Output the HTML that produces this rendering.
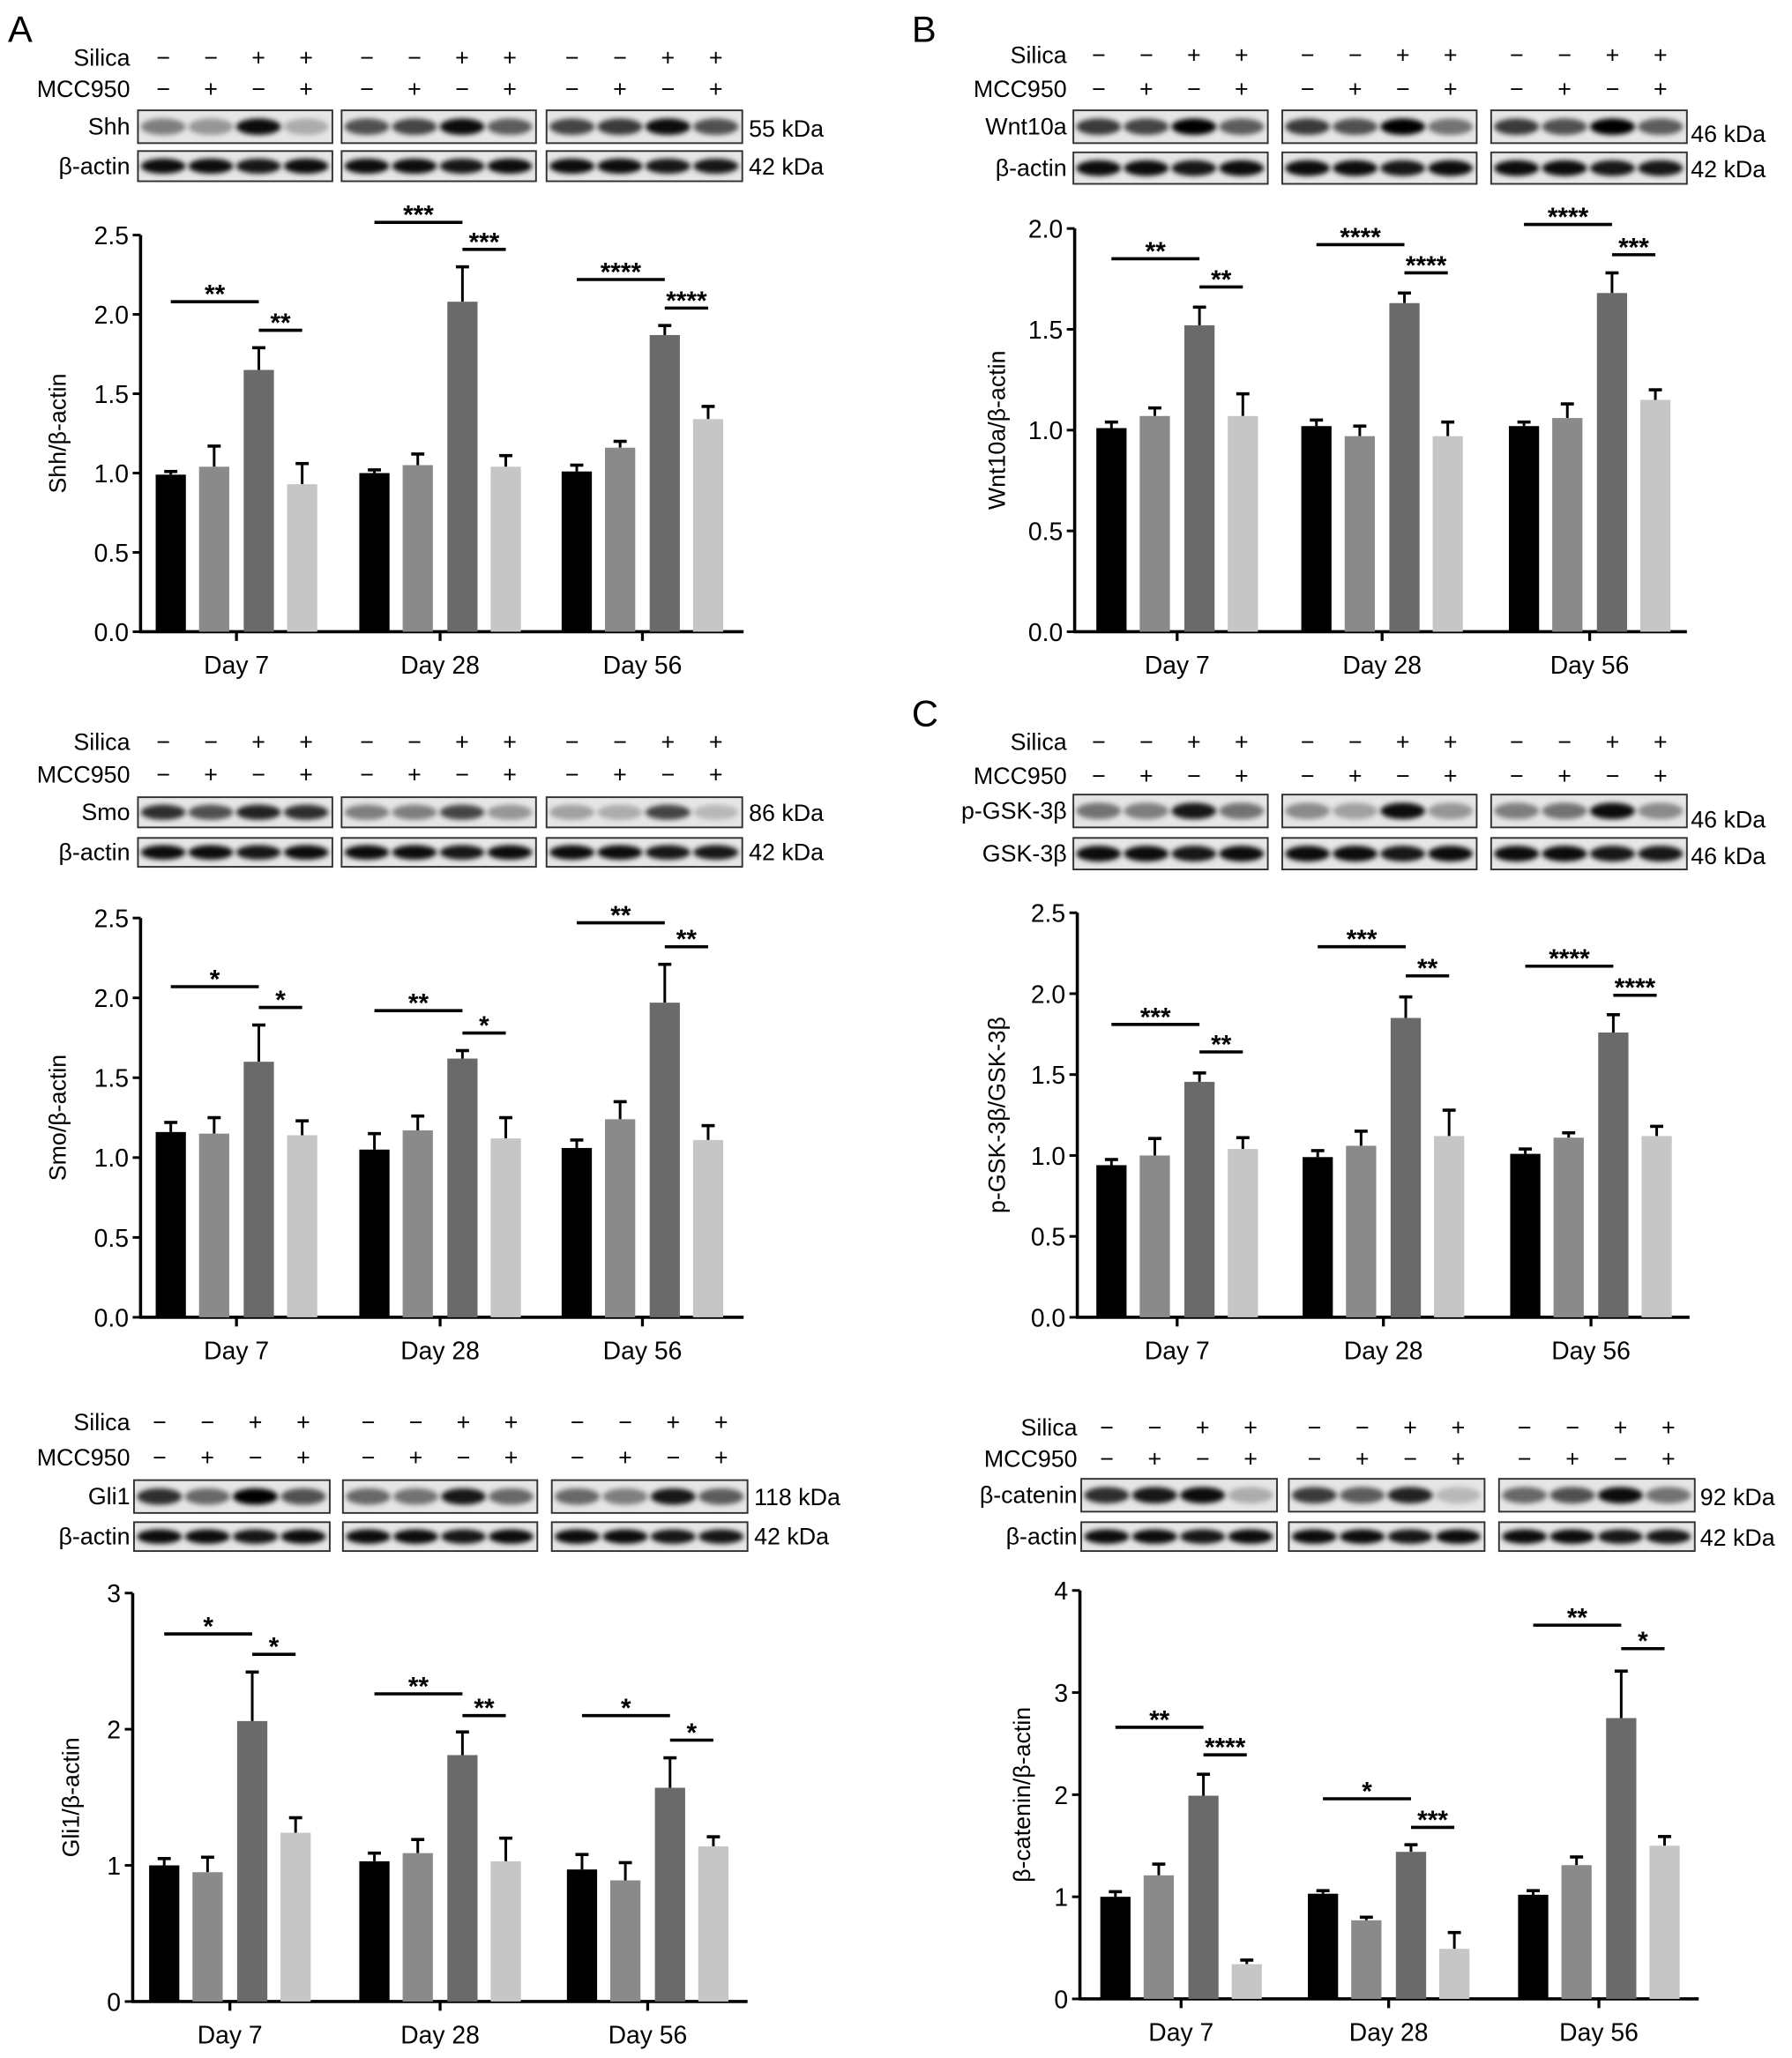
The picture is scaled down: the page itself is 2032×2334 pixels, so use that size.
<!DOCTYPE html>
<html><head><meta charset="utf-8"><style>
html,body{margin:0;padding:0;background:#fff;}
svg{display:block;font-family:"Liberation Sans",Arial,sans-serif;}
</style></head><body>
<svg id="fig" xmlns="http://www.w3.org/2000/svg" width="2032" height="2334" viewBox="0 0 1364 1567" preserveAspectRatio="none">
<defs><filter id="blur" x="-50%" y="-100%" width="200%" height="300%"><feGaussianBlur stdDeviation="2"/></filter></defs>
<text x="6" y="32" font-size="28">A</text>
<text x="694" y="32" font-size="28">B</text>
<text x="694" y="553" font-size="28">C</text>
</svg>
<script>
const groups = ['Day 7', 'Day 28', 'Day 56'];
const silicaSigns = ['−','−','+','+'];
const mccSigns = ['−','+','−','+'];

const shhMeans = [[0.99,1.04,1.65,0.93],[1.00,1.05,2.08,1.04],[1.01,1.16,1.87,1.34]];
const shhErr = [[0.02,0.13,0.14,0.13],[0.02,0.07,0.22,0.07],[0.04,0.04,0.06,0.08]];
const shhSig = [[2.08,1.90],[2.58,2.41],[2.22,2.04]];
const shhStars = [['**','**'],['***','***'],['****','****']];
const shhTicks = ['0.0','0.5','1.0','1.5','2.0','2.5'];

const smoMeans = [[1.16,1.15,1.60,1.14],[1.05,1.17,1.62,1.12],[1.06,1.24,1.97,1.11]];
const smoErr = [[0.06,0.10,0.23,0.09],[0.10,0.09,0.05,0.13],[0.05,0.11,0.24,0.09]];
const smoSig = [[2.07,1.94],[1.92,1.78],[2.47,2.32]];
const smoStars = [['*','*'],['**','*'],['**','**']];
const smoTicks = ['0.0','0.5','1.0','1.5','2.0','2.5'];

const gliMeans = [[1.00,0.95,2.06,1.24],[1.03,1.09,1.81,1.03],[0.97,0.89,1.57,1.14]];
const gliErr = [[0.05,0.11,0.36,0.11],[0.06,0.10,0.17,0.17],[0.11,0.13,0.22,0.07]];
const gliSig = [[2.70,2.55],[2.26,2.10],[2.10,1.92]];
const gliStars = [['*','*'],['**','**'],['*','*']];
const gliTicks = ['0','1','2','3'];

const wntMeans = [[1.01,1.07,1.52,1.07],[1.02,0.97,1.63,0.97],[1.02,1.06,1.68,1.15]];
const wntErr = [[0.03,0.04,0.09,0.11],[0.03,0.05,0.05,0.07],[0.02,0.07,0.10,0.05]];
const wntSig = [[1.85,1.71],[1.92,1.78],[2.02,1.87]];
const wntStars = [['**','**'],['****','****'],['****','***']];
const wntTicks = ['0.0','0.5','1.0','1.5','2.0'];

const gskMeans = [[0.94,1.00,1.455,1.04],[0.99,1.06,1.85,1.12],[1.01,1.11,1.76,1.12]];
const gskErr = [[0.035,0.105,0.055,0.07],[0.04,0.09,0.13,0.16],[0.03,0.03,0.11,0.06]];
const gskSig = [[1.81,1.64],[2.29,2.11],[2.17,1.99]];
const gskStars = [['***','**'],['***','**'],['****','****']];
const gskTicks = ['0.0','0.5','1.0','1.5','2.0','2.5'];

const catMeans = [[1.00,1.21,1.99,0.34],[1.03,0.77,1.44,0.49],[1.02,1.31,2.75,1.50]];
const catErr = [[0.05,0.11,0.21,0.04],[0.03,0.03,0.07,0.16],[0.04,0.08,0.46,0.09]];
const catSig = [[2.66,2.39],[1.96,1.68],[3.66,3.43]];
const catStars = [['**','****'],['*','***'],['**','*']];
const catTicks = ['0','1','2','3','4'];

const barColors = ['#000000','#8a8a8a','#6a6a6a','#c6c6c6'];
const offsets = [-50,-17,17,50];
const svg = document.getElementById('fig');
const NS = 'http://www.w3.org/2000/svg';
function mk(tag, attrs, parent){const e=document.createElementNS(NS,tag);for(const k in attrs)e.setAttribute(k,attrs[k]);(parent||svg).appendChild(e);return e;}

function panel(p){
  const g = mk('g',{});
  
  
  const lanesX = p.boxes.map(b => [0,1,2,3].map(i => b[0] + (b[1]-b[0])*(0.13 + 0.245*i)));
  const t1 = mk('text',{x:p.lblX,y:p.silY+6,'font-size':18,'text-anchor':'end'},g); t1.textContent='Silica';
  
  
  const t2 = mk('text',{x:p.lblX,y:p.mccY+6,'font-size':18,'text-anchor':'end'},g); t2.textContent='MCC950';
  
  
  lanesX.forEach(ls => ls.forEach((x,i) => {
    const a = mk('text',{x:x,y:p.silY+6,'font-size':18,'text-anchor':'middle'},g); a.textContent=silicaSigns[i];
    
    
    const b = mk('text',{x:x,y:p.mccY+6,'font-size':18,'text-anchor':'middle'},g); b.textContent=mccSigns[i];
    
    
  }));
  p.rows.forEach((r,ri) => {
    const lab = mk('text',{x:p.lblX,y:(r.y0+r.y1)/2+6,'font-size':18,'text-anchor':'end'},g); lab.textContent=r.name;
    
    
    p.boxes.forEach((b,bi) => {
      const rect = mk('rect',{x:b[0],y:r.y0,width:b[1]-b[0],height:r.y1-r.y0,fill:'#e6e6e6',stroke:'#333','stroke-width':1.3},g);
      
      
      lanesX[bi].forEach((x,i) => {
        const inten = r.bands[bi][i];
        const e = mk('ellipse',{cx:x,cy:(r.y0+r.y1)/2,rx:(b[1]-b[0])*0.115,ry:(r.y1-r.y0)*0.25,fill:'#000','fill-opacity':inten,filter:'url(#blur)'},g);
        
        
      });
    });
    const k = mk('text',{x:p.kdaX,y:r.kdaY,'font-size':18},g); k.textContent=r.kda;
    
    
  });
  const y = v => p.y0 - v/p.ymax*(p.y0-p.ytop);
  const yax = mk('line',{x1:p.ax,y1:p.ytop,x2:p.ax,y2:p.y0,stroke:'#000','stroke-width':2.4},g);
  
  
  const xax = mk('line',{x1:p.ax-1,y1:p.y0,x2:p.xend,y2:p.y0,stroke:'#000','stroke-width':2.4},g);
  
  
  p.ticks.forEach((t,i) => {
    const v = i*p.ymax/(p.ticks.length-1);
    mk('line',{x1:p.ax-6,y1:y(v),x2:p.ax,y2:y(v),stroke:'#000','stroke-width':2},g);
    const tt = mk('text',{x:p.ax-9,y:y(v)+7,'font-size':19,'text-anchor':'end'},g); tt.textContent=t;
    
    
  });
  const yt = mk('text',{x:p.titleX,y:(p.ytop+p.y0)/2,'font-size':18,'text-anchor':'middle',transform:`rotate(-90 ${p.titleX} ${(p.ytop+p.y0)/2})`},g);
  yt.textContent = p.title;
  
  
  groups.forEach((gn,gi) => {
    const cx = p.centers[gi];
    mk('line',{x1:cx,y1:p.y0,x2:cx,y2:p.y0+7,stroke:'#000','stroke-width':2.2},g);
    const dl = mk('text',{x:cx,y:p.y0+32,'font-size':19,'text-anchor':'middle'},g); dl.textContent=gn;
    
    
    const xs = offsets.map(o => cx+o);
    p.means[gi].forEach((m,i) => {
      const top = y(m+p.err[gi][i]);
      mk('line',{x1:xs[i],y1:y(m),x2:xs[i],y2:top,stroke:'#000','stroke-width':2},g);
      mk('line',{x1:xs[i]-5,y1:top,x2:xs[i]+5,y2:top,stroke:'#000','stroke-width':2.4},g);
      const bar = mk('rect',{x:xs[i]-11.5,y:y(m),width:23,height:p.y0-y(m),fill:barColors[i]},g);
      
      
    });
    const pairs = [[0,2],[2,3]];
    pairs.forEach((pr,k) => {
      const ly = y(p.sig[gi][k]);
      const x1 = xs[pr[0]], x2 = xs[pr[1]];
      const sl = mk('line',{x1:x1,y1:ly,x2:x2,y2:ly,stroke:'#000','stroke-width':2.4},g);
      
      
      const st = mk('text',{x:(x1+x2)/2,y:ly+1,'font-size':20,'font-weight':'bold','text-anchor':'middle'},g);
      st.textContent = p.stars[gi][k];
      
      
    });
  });
}

const boxesA1 = [[105,253],[260,408],[416,565]];
const boxesA3 = [[102,251],[261,409],[420,569]];
const boxesB = [[817,965],[976,1124],[1135,1284]];
const boxesC2 = [[823,972],[981,1130],[1141,1290]];
const actinBands = [[0.95,0.95,0.9,0.95],[0.95,0.95,0.9,0.95],[0.95,0.95,0.9,0.9]];

panel({id:'shh',lblX:99,silY:44,mccY:68,boxes:boxesA1,kdaX:570,
  rows:[{name:'Shh',y0:84,y1:109,kda:'55 kDa',kdaY:104,bands:[[0.45,0.35,0.95,0.25],[0.65,0.7,0.95,0.6],[0.7,0.75,0.95,0.65]]},
        {name:'β-actin',y0:115,y1:138,kda:'42 kDa',kdaY:133,bands:actinBands}],
  ax:107,xend:566,y0:481,ytop:179,ymax:2.5,ticks:shhTicks,titleX:50,title:'Shh/β-actin',
  centers:[180,335,489],means:shhMeans,err:shhErr,sig:shhSig,stars:shhStars});
panel({id:'smo',lblX:99,silY:565,mccY:590,boxes:boxesA1,kdaX:570,
  rows:[{name:'Smo',y0:607,y1:630,kda:'86 kDa',kdaY:625,bands:[[0.8,0.65,0.85,0.8],[0.45,0.45,0.7,0.35],[0.3,0.25,0.7,0.2]]},
        {name:'β-actin',y0:638,y1:660,kda:'42 kDa',kdaY:655,bands:actinBands}],
  ax:107,xend:566,y0:1003,ytop:699,ymax:2.5,ticks:smoTicks,titleX:50,title:'Smo/β-actin',
  centers:[180,335,489],means:smoMeans,err:smoErr,sig:smoSig,stars:smoStars});
panel({id:'gli1',lblX:99,silY:1083,mccY:1110,boxes:boxesA3,kdaX:574,
  rows:[{name:'Gli1',y0:1127,y1:1152,kda:'118 kDa',kdaY:1146,bands:[[0.8,0.55,1,0.65],[0.55,0.5,0.9,0.55],[0.55,0.45,0.9,0.6]]},
        {name:'β-actin',y0:1159,y1:1181,kda:'42 kDa',kdaY:1176,bands:actinBands}],
  ax:101,xend:569,y0:1524,ytop:1213,ymax:3,ticks:gliTicks,titleX:60,title:'Gli1/β-actin',
  centers:[175,335,493],means:gliMeans,err:gliErr,sig:gliSig,stars:gliStars});
panel({id:'wnt10a',lblX:812,silY:42,mccY:68,boxes:boxesB,kdaX:1287,
  rows:[{name:'Wnt10a',y0:84,y1:109,kda:'46 kDa',kdaY:108,bands:[[0.75,0.7,1,0.6],[0.75,0.65,1,0.5],[0.75,0.65,1,0.6]]},
        {name:'β-actin',y0:116,y1:140,kda:'42 kDa',kdaY:135,bands:actinBands}],
  ax:818,xend:1284,y0:481,ytop:174,ymax:2.0,ticks:wntTicks,titleX:765,title:'Wnt10a/β-actin',
  centers:[896,1052,1210],means:wntMeans,err:wntErr,sig:wntSig,stars:wntStars});
panel({id:'pgsk',lblX:812,silY:565,mccY:591,boxes:boxesB,kdaX:1287,
  rows:[{name:'p-GSK-3β',y0:605,y1:630,kda:'46 kDa',kdaY:630,bands:[[0.5,0.45,0.9,0.5],[0.4,0.3,0.95,0.35],[0.45,0.5,0.95,0.4]]},
        {name:'GSK-3β',y0:638,y1:662,kda:'46 kDa',kdaY:658,bands:actinBands}],
  ax:820,xend:1286,y0:1003,ytop:695,ymax:2.5,ticks:gskTicks,titleX:765,title:'p-GSK-3β/GSK-3β',
  centers:[896,1053,1211],means:gskMeans,err:gskErr,sig:gskSig,stars:gskStars});
panel({id:'beta-catenin',lblX:820,silY:1087,mccY:1111,boxes:boxesC2,kdaX:1294,
  rows:[{name:'β-catenin',y0:1126,y1:1151,kda:'92 kDa',kdaY:1146,bands:[[0.8,0.9,0.95,0.25],[0.75,0.6,0.85,0.2],[0.55,0.65,0.95,0.5]]},
        {name:'β-actin',y0:1159,y1:1181,kda:'42 kDa',kdaY:1177,bands:actinBands}],
  ax:822,xend:1293,y0:1522,ytop:1211,ymax:4,ticks:catTicks,titleX:784,title:'β-catenin/β-actin',
  centers:[899,1057,1217],means:catMeans,err:catErr,sig:catSig,stars:catStars});
</script>
</body></html>
